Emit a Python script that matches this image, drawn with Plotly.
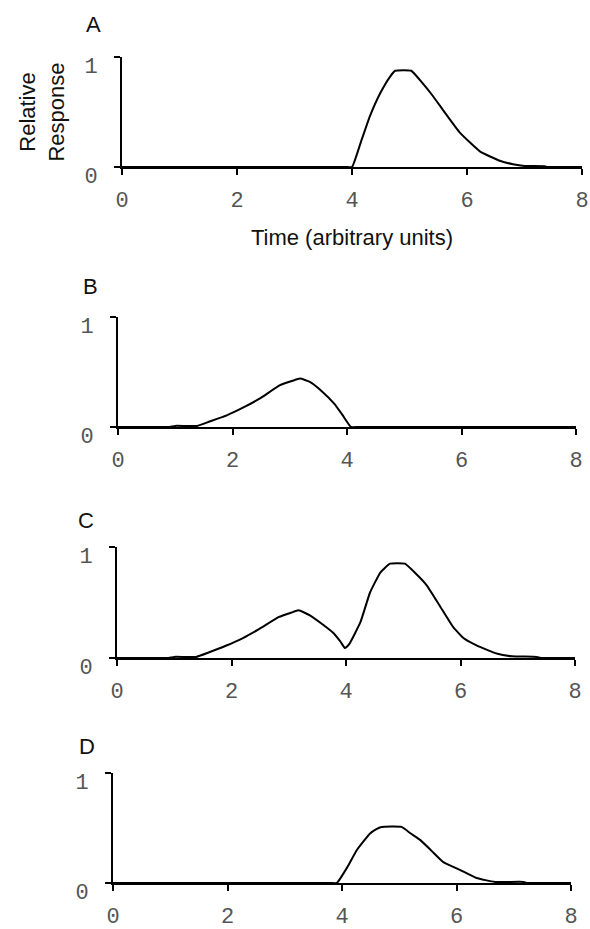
import plotly.graph_objects as go

W, H = 590, 929

# ---- data ----
xA = [0, 3.8, 3.9, 4.0, 4.15, 4.31, 4.49, 4.66, 4.75, 5.03, 5.23, 5.4, 5.58, 5.88, 6.23, 6.57, 6.8, 7.0,
      7.35, 7.4, 7.5, 8]
yA = [0, 0, 0, 0, 0.22, 0.46, 0.67, 0.82, 0.875, 0.875, 0.76, 0.65, 0.52, 0.31, 0.14, 0.057, 0.025, 0.01,
      0.008, 0, 0, 0]

xB = [0, 0.1, 0.8, 0.9, 1.0, 1.38, 1.6, 1.9, 2.2, 2.48, 2.83, 3.05, 3.18, 3.35, 3.55, 3.78, 3.92, 4.07,
      4.2, 7.9, 8]
yB = [0, 0, 0, 0, 0.01, 0.01, 0.05, 0.106, 0.18, 0.26, 0.38, 0.42, 0.44, 0.41, 0.33, 0.21, 0.11, 0,
      0, 0, 0]

xC = [0, 0.1, 0.8, 0.9, 1.0, 1.38, 1.6, 1.9, 2.2, 2.48, 2.83, 3.05, 3.17, 3.37, 3.6, 3.77, 3.9, 3.98, 4.05,
      4.25, 4.42, 4.6, 4.77, 5.03, 5.2, 5.41, 5.65, 5.87, 6.05, 6.28, 6.63, 6.9, 7.33, 7.4, 7.5, 7.9, 8]
yC = [0, 0, 0, 0, 0.01, 0.01, 0.05, 0.11, 0.18, 0.26, 0.37, 0.41, 0.43, 0.385, 0.3, 0.23, 0.15, 0.09, 0.12,
      0.32, 0.59, 0.77, 0.85, 0.85, 0.77, 0.655, 0.46, 0.28, 0.18, 0.114, 0.04, 0.015, 0.01, 0, 0, 0, 0]

xD = [0, 0.1, 3.7, 3.8, 3.91, 4.1, 4.26, 4.49, 4.6, 4.69, 5.04, 5.2, 5.37, 5.57, 5.77, 6.06, 6.35, 6.67,
      7.17, 7.22, 7.3, 7.9, 8]
yD = [0, 0, 0, 0, 0, 0.15, 0.30, 0.45, 0.49, 0.51, 0.51, 0.45, 0.39, 0.29, 0.19, 0.12, 0.046, 0.01,
      0.01, 0, 0, 0, 0]

panel_labels = ["A", "B", "C", "D"]
x_ticks = [0, 2, 4, 6, 8]
y_ticks = [0, 1]
x_title = "Time (arbitrary units)"
y_title = "Relative<br>Response"

series = [(xA, yA), (xB, yB), (xC, yC), (xD, yD)]

# panel placement in pixels: (left, right, top, bottom)
boxes = [(122, 582, 57, 167), (118, 576, 317, 427), (117, 575, 547, 658), (113, 571, 773, 883)]
letter_pos = [(94, 24), (90, 287), (86, 520), (87, 746)]

fig = go.Figure()
tick_font = dict(family="Liberation Mono", size=22, color="#555555")

for i, ((xs, ys), (l, r, t, b)) in enumerate(zip(series, boxes)):
    n = "" if i == 0 else str(i + 1)
    fig.add_trace(go.Scatter(x=xs, y=ys, mode="lines", xaxis="x" + n, yaxis="y" + n,
                             line=dict(color="black", width=2, shape="spline", smoothing=0.4),
                             showlegend=False, hoverinfo="skip"))
    xa = dict(domain=[l / W, r / W], range=[0, 8], anchor="y" + n, tickvals=x_ticks,
              ticks="outside", ticklen=6, tickwidth=2, tickcolor="black",
              showline=True, linecolor="black", linewidth=2, showgrid=False, zeroline=False,
              tickfont=tick_font, ticklabelstandoff=6, automargin=False)
    ya = dict(domain=[1 - b / H, 1 - t / H], range=[0, 1], anchor="x" + n, tickvals=y_ticks,
              ticks="outside", ticklen=6, tickwidth=2, tickcolor="black",
              showline=True, linecolor="black", linewidth=2, showgrid=False, zeroline=False,
              tickfont=tick_font, ticklabelstandoff=12, ticklabelshift=8, automargin=False)
    if i == 0:
        xa["title"] = dict(text=x_title, font=dict(family="Liberation Sans", size=22, color="#111"),
                           standoff=16)
        ya["title"] = dict(text=y_title, font=dict(family="Liberation Sans", size=22, color="#111"),
                           standoff=14)
    fig.layout["xaxis" + n] = xa
    fig.layout["yaxis" + n] = ya
    lx, ly = letter_pos[i]
    fig.add_annotation(text=panel_labels[i], x=lx / W, y=1 - ly / H, xref="paper", yref="paper",
                       showarrow=False, xanchor="center", yanchor="middle",
                       font=dict(family="Liberation Sans", size=22, color="#111"))

fig.update_layout(width=W, height=H, margin=dict(l=0, r=0, t=0, b=0, autoexpand=False),
                  plot_bgcolor="white", paper_bgcolor="white")

fig.write_html("out.html")
